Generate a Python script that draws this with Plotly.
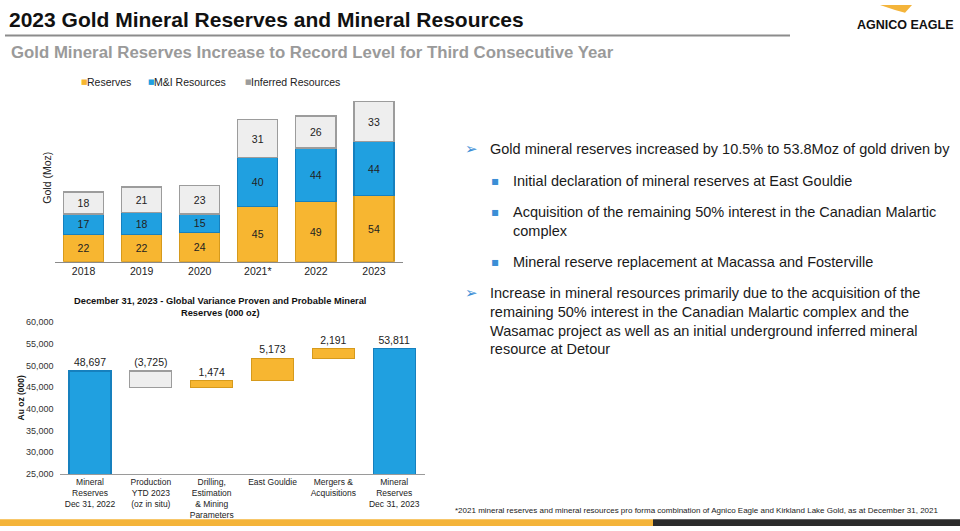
import plotly.graph_objects as go

# ---------------- data ----------------
years = ["2018", "2019", "2020", "2021*", "2022", "2023"]
reserves = [22, 22, 24, 45, 49, 54]
mi_resources = [17, 18, 15, 40, 44, 44]
inferred = [18, 21, 23, 31, 26, 33]
series_names = ["Reserves", "M&I Resources", "Inferred Resources"]

wf_categories = [
    "Mineral<br>Reserves<br>Dec 31, 2022",
    "Production<br>YTD 2023<br>(oz in situ)",
    "Drilling,<br>Estimation<br>& Mining<br>Parameters",
    "East Gouldie",
    "Mergers &<br>Acquisitions",
    "Mineral<br>Reserves<br>Dec 31, 2023",
]
wf_start = 48697
wf_changes = [-3725, 1474, 5173, 2191]
wf_end = 53811
wf_labels = ["48,697", "(3,725)", "1,474", "5,173", "2,191", "53,811"]
wf_ticks = [25000, 30000, 35000, 40000, 45000, 50000, 55000, 60000]

W, H = 960, 531
FONT = "Liberation Sans, Arial, sans-serif"
GOLD, GOLD_L = "#F7B631", "#D69A1C"
BLUE, BLUE_L = "#20A0E0", "#1680BE"
GREY, GREY_L = "#EEEEEE", "#9C9C9C"


def px(x):
    return x / W


def py(y):
    return 1 - y / H


fig = go.Figure()

# ---------------- top stacked bars ----------------
styles = [(GOLD, GOLD_L), (BLUE, BLUE_L), (GREY, GREY_L)]
for name, vals, (col, lc) in zip(series_names, [reserves, mi_resources, inferred], styles):
    fig.add_trace(go.Bar(
        x=years, y=vals, name=name, xaxis="x", yaxis="y", showlegend=False,
        marker=dict(color=col, line=dict(color=lc, width=1.2)),
        width=0.69, text=[str(v) for v in vals], textposition="inside",
        insidetextanchor="middle", textangle=0,
        textfont=dict(family=FONT, size=10.5, color="#222222"),
        hoverinfo="skip",
    ))

# ---------------- waterfall (bars with bases) ----------------
bases, heights, colors, lcolors = [0], [wf_start], [BLUE], [BLUE_L]
cum = wf_start
for c in wf_changes:
    new = cum + c
    bases.append(min(cum, new))
    heights.append(abs(c))
    colors.append(GREY if c < 0 else GOLD)
    lcolors.append(GREY_L if c < 0 else GOLD_L)
    cum = new
bases.append(0)
heights.append(wf_end)
colors.append(BLUE)
lcolors.append(BLUE_L)

fig.add_trace(go.Bar(
    x=wf_categories, y=heights, base=bases, xaxis="x2", yaxis="y2",
    showlegend=False, width=0.69,
    marker=dict(color=colors, line=dict(color=lcolors, width=1.2)),
    text=wf_labels, textposition="outside", cliponaxis=False,
    textfont=dict(family=FONT, size=10.5, color="#222222"),
    hoverinfo="skip",
))

fig.update_layout(
    width=W, height=H, margin=dict(l=0, r=0, t=0, b=0),
    paper_bgcolor="white", plot_bgcolor="white",
    barmode="stack",
    font=dict(family=FONT, color="#222222"),
    xaxis=dict(domain=[px(54.5), px(403)], showline=True, linecolor="#8a8a8a",
               linewidth=1, ticks="", showgrid=False,
               tickfont=dict(family=FONT, size=10.5, color="#222222")),
    yaxis=dict(domain=[py(261.7), py(87)], range=[0, 140], showticklabels=False,
               showgrid=False, zeroline=False, showline=False),
    xaxis2=dict(domain=[px(59.6), px(424.6)], showline=True, linecolor="#9a9a9a",
                linewidth=1, ticks="", showgrid=False, anchor="y2",
                tickfont=dict(family=FONT, size=8.5, color="#222222")),
    yaxis2=dict(domain=[py(478), py(323)], range=[25000, 60000], tickvals=wf_ticks,
                tickformat=",", showgrid=False, zeroline=False, showline=False,
                anchor="x2", ticks="", ticklabelstandoff=5,
                tickfont=dict(family=FONT, size=9, color="#333333")),
)

ann = []
# header
ann.append(dict(text="<b>2023 Gold Mineral Reserves and Mineral Resources</b>",
                x=px(7), y=py(15), xanchor="left", yanchor="middle",
                font=dict(family=FONT, size=21, color="#111111")))
ann.append(dict(text="<b>Gold Mineral Reserves Increase to Record Level for Third Consecutive Year</b>",
                x=px(9), y=py(48), xanchor="left", yanchor="middle",
                font=dict(family=FONT, size=16.8, color="#9a9a9a")))
ann.append(dict(text="<b>AGNICO EAGLE</b>", x=px(905), y=py(20), xanchor="center",
                yanchor="middle", font=dict(family=FONT, size=12.5, color="#111111")))

# legend (manual, tiny squares as in the reference)
leg_x = [79, 146, 243]
for (col, lc), name, lx in zip(styles, series_names, leg_x):
    ann.append(dict(text="■", x=px(lx), y=py(78.5), xanchor="left", yanchor="middle",
                    font=dict(family="DejaVu Sans", size=7, color=lc if col == GREY else col)))
    ann.append(dict(text=name, x=px(lx + 6), y=py(78), xanchor="left", yanchor="middle",
                    font=dict(family=FONT, size=10.5, color="#222222")))

# axis titles
ann.append(dict(text="Gold (Moz)", x=px(47), y=py(176), textangle=-90, xanchor="center",
                yanchor="middle", font=dict(family=FONT, size=10.5, color="#222222")))
ann.append(dict(text="<b>December 31, 2023 - Global Variance Proven and Probable Mineral<br>Reserves (000 oz)</b>",
                x=px(220), y=py(308), xanchor="center", yanchor="middle",
                font=dict(family=FONT, size=9.3, color="#111111")))
ann.append(dict(text="<b>Au oz (000)</b>", x=px(21), y=py(400), textangle=-90,
                xanchor="center", yanchor="middle",
                font=dict(family=FONT, size=8.5, color="#111111")))

# right text
TXT = dict(family=FONT, size=14.5, color="#1a1a1a")
arrow_col = "#3B8ED6"
lines = [
    (146.7, "arrow", "Gold mineral reserves increased by 10.5% to 53.8Moz of gold driven by"),
    (179.3, "sq", "Initial declaration of mineral reserves at East Gouldie"),
    (210.7, "sq", "Acquisition of the remaining 50% interest in the Canadian Malartic"),
    (230.0, None, "complex"),
    (261.7, "sq", "Mineral reserve replacement at Macassa and Fosterville"),
    (293.3, "arrow", "Increase in mineral resources primarily due to the acquisition of the"),
    (312.7, None, "remaining 50% interest in the Canadian Malartic complex and the"),
    (332.0, None, "Wasamac project as well as an initial underground inferred mineral"),
    (350.7, None, "resource at Detour"),
]
for yy, kind, t in lines:
    if kind == "arrow":
        ann.append(dict(text="➢", x=px(463), y=py(yy), xanchor="left", yanchor="middle",
                        font=dict(family="DejaVu Sans", size=15, color=arrow_col)))
        xt = 488
    elif kind == "sq":
        ann.append(dict(text="▪", x=px(489), y=py(yy), xanchor="left", yanchor="middle",
                        font=dict(family="DejaVu Sans", size=12, color=arrow_col)))
        xt = 511
    else:
        xt = 488 if yy > 280 else 511
    ann.append(dict(text=t, x=px(xt), y=py(yy), xanchor="left", yanchor="middle", font=TXT))

ann.append(dict(text="*2021 mineral reserves and mineral resources pro forma combination of Agnico Eagle and Kirkland Lake Gold, as at December 31, 2021",
                x=px(453), y=py(515), xanchor="left", yanchor="middle",
                font=dict(family=FONT, size=8, color="#222222")))

for a in ann:
    a.update(xref="paper", yref="paper", showarrow=False)
fig.update_layout(annotations=ann)

shapes = [
    dict(type="line", xref="paper", yref="paper", x0=px(5), x1=px(790), y0=py(31), y1=py(31),
         line=dict(color="#8c8c8c", width=2)),
    dict(type="rect", xref="paper", yref="paper", x0=0, x1=px(653), y0=0, y1=py(524),
         fillcolor="#F4B43A", line=dict(width=0)),
    dict(type="rect", xref="paper", yref="paper", x0=px(653), x1=1, y0=0, y1=py(524),
         fillcolor="#2b2b2b", line=dict(width=0)),
    dict(type="path", xref="paper", yref="paper",
         path=f"M {px(880)},{py(0)} L {px(912)},{py(0)} L {px(905)},{py(8)} L {px(895)},{py(5)} Z",
         fillcolor="#F4B43A", line=dict(width=0)),
]
fig.update_layout(shapes=shapes)

fig.write_html("out.html")
